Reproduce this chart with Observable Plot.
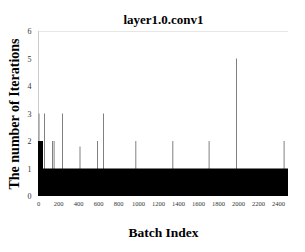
<!DOCTYPE html>
<html>
<head>
<meta charset="utf-8">
<script src="https://cdn.jsdelivr.net/npm/d3@7"></script>
<script src="https://cdn.jsdelivr.net/npm/@observablehq/plot@0.6"></script>
<style>
  html, body { margin: 0; padding: 0; background: #fff; }
  svg text { font-family: 'Liberation Serif', serif; }
</style>
</head>
<body>
<div id="chart"></div>
<script>
const title = "layer1.0.conv1";
const xLabel = "Batch Index";
const yLabel = "The number of Iterations";

// Base level: segments of constant iteration count
const segStart = [0, 50];
const segEnd = [50, 2500];
const segValue = [2, 1];

// Isolated spikes
const spikeBatch = [5, 60, 140, 156, 240, 415, 590, 650, 973, 1343, 1706, 1980, 2456];
const spikeValue = [3, 3, 2, 2, 3, 1.8, 2, 3, 2, 2, 2, 5, 2];

const xTicks = [0, 200, 400, 600, 800, 1000, 1200, 1400, 1600, 1800, 2000, 2200, 2400];
const yTicks = [0, 1, 2, 3, 4, 5, 6];

const segs = segStart.map((s, i) => ({ x1: s, x2: segEnd[i], y: segValue[i] }));
const spikes = spikeBatch.map((b, i) => ({ x: b, y: spikeValue[i] }));

const chart = Plot.plot({
  width: 305,
  height: 252,
  marginLeft: 38,
  marginRight: 17,
  marginTop: 31,
  marginBottom: 56,
  style: { fontFamily: "'Liberation Serif', serif", background: "#fff" },
  x: { domain: [0, 2500] },
  y: { domain: [0, 6] },
  marks: [
    Plot.ruleY([6], { stroke: "#e6e6e6" }),
    Plot.ruleX([0], { stroke: "#cccccc" }),
    Plot.ruleX(spikes, { x: "x", y1: 0, y2: "y", stroke: "#808080", strokeWidth: 1 }),
    Plot.rectY(segs, { x1: "x1", x2: "x2", y1: 0, y2: "y", fill: "#000" }),
    Plot.axisX({ ticks: xTicks, tickFormat: d => String(d), tickSize: 0, tickPadding: 5, fontSize: 6.5, label: null, color: "#333" }),
    Plot.axisY({ ticks: yTicks, tickFormat: d => String(d), tickSize: 0, tickPadding: 7, fontSize: 8, label: null, color: "#333" }),
    Plot.text([title], { frameAnchor: "top", dy: -17, text: d => d, fontSize: 13, fontWeight: "bold", fill: "#000" }),
    Plot.text([xLabel], { frameAnchor: "bottom", dy: 40, text: d => d, fontSize: 13.5, fontWeight: "bold", fill: "#000" }),
    Plot.text([yLabel], { frameAnchor: "left", textAnchor: "middle", dx: -24, rotate: -90, text: d => d, fontSize: 14, fontWeight: "bold", fill: "#000" })
  ]
});
document.getElementById("chart").appendChild(chart);
</script>
</body>
</html>
